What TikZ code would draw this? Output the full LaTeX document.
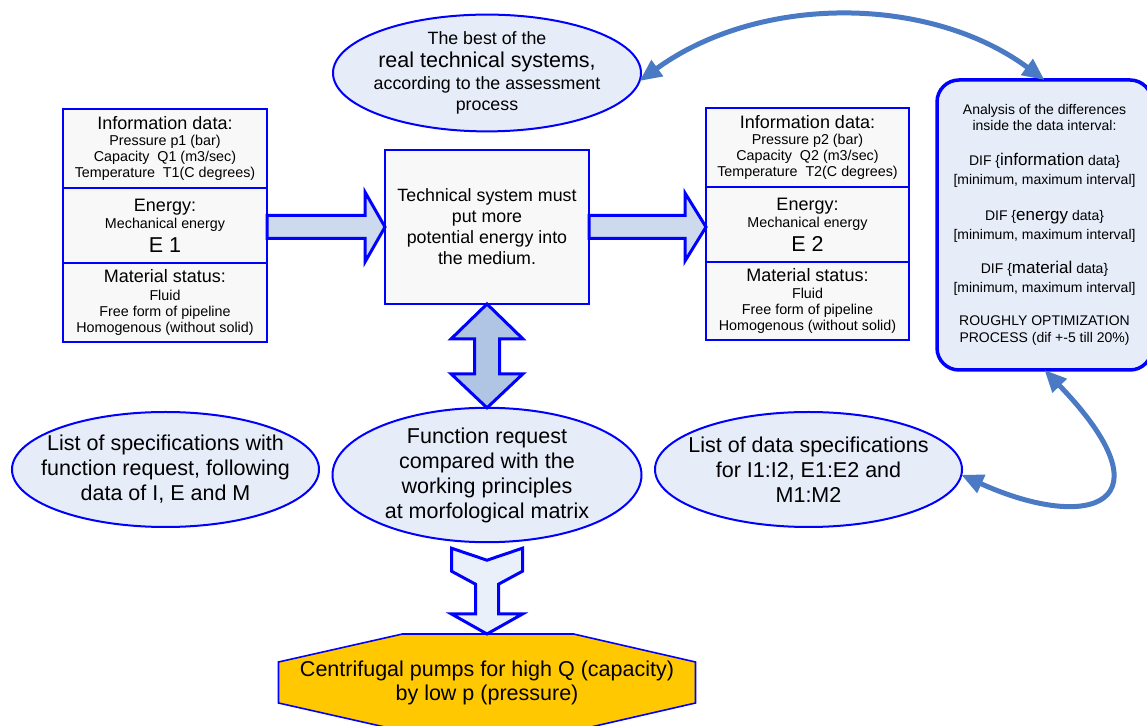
\documentclass[tikz,border=0pt]{standalone}
\usepackage{fontspec}
\setmainfont{Liberation Sans}
\usetikzlibrary{shapes.geometric,arrows.meta,calc}

\definecolor{boxblue}{RGB}{0,0,255}
\definecolor{ovalfill}{RGB}{230,236,248}
\definecolor{boxfill}{RGB}{248,248,248}
\definecolor{harrowfill}{RGB}{205,217,237}
\definecolor{varrowfill}{RGB}{176,196,228}
\definecolor{yarrowfill}{RGB}{234,240,249}
\definecolor{linkblue}{RGB}{74,122,196}
\definecolor{pumpgold}{RGB}{255,200,0}

% font size / baseline skip
\newcommand\setfs[2]{\fontsize{#1}{#2}\selectfont}

\tikzset{
  infobox/.style={draw=boxblue, line width=2pt, fill=boxfill, minimum width=204pt,
    inner sep=0pt, outer sep=0pt, align=center, font=\setfs{14.3}{16}},
  % negative inner xsep: the ellipse size is fixed by minimum width/height
  oval/.style={ellipse, draw=boxblue, line width=2pt, fill=ovalfill, inner xsep=-60pt,
    inner ysep=0pt, outer sep=0pt, align=center, font=\setfs{21.5}{25}},
  blockarr/.style={draw=boxblue, line width=3pt, line join=miter},
  link/.style={draw=linkblue, line width=5pt,
    {Triangle[length=22pt,width=19pt]}-{Triangle[length=22pt,width=19pt]}},
}

\begin{document}
\begin{tikzpicture}[x=1pt,y=1pt]
\useasboundingbox (0,0) rectangle (1147,725);
\begin{scope}[yshift=725pt, y=-1pt]

% top oval
\node[oval, minimum width=308pt, minimum height=112pt, font=\setfs{17.8}{21}] (best) at (487,73)
  {The best of the\\[2pt]{\setfs{21.5}{21}real technical systems,}\\[1pt]according to the assessment\\process};

% input data (left column)
\node[infobox, minimum height=79pt] (in1) at (165,148.5)
  {{\setfs{18}{16}Information data:}\\Pressure p1 (bar)\\Capacity\ \ Q1 (m3/sec)\\Temperature\ \ T1(C degrees)};
\node[infobox, minimum height=75pt] (in2) at (165,225.5)
  {{\setfs{18}{16}Energy:}\\[1pt]Mechanical energy\\[5pt]{\setfs{21.5}{16}E 1}};
\node[infobox, minimum height=79pt] (in3) at (165,302.5)
  {{\setfs{18}{16}Material status:}\\[1.5pt]Fluid\\Free form of pipeline\\Homogenous (without solid)};

% technical system
\node[infobox, minimum height=154pt, font=\setfs{17.8}{21}] (tech) at (487,227)
  {Technical system must\\put more\\potential energy into\\the medium.};

% output data (right column)
\node[infobox, minimum width=203pt, minimum height=79pt] (out1) at (807.5,147.5)
  {{\setfs{18}{16}Information data:}\\Pressure p2 (bar)\\Capacity\ \ Q2 (m3/sec)\\Temperature\ \ T2(C degrees)};
\node[infobox, minimum width=203pt, minimum height=75pt] (out2) at (807.5,224.5)
  {{\setfs{18}{16}Energy:}\\[1pt]Mechanical energy\\[5pt]{\setfs{21.5}{16}E 2}};
\node[infobox, minimum width=203pt, minimum height=78pt] (out3) at (807.5,301)
  {{\setfs{18}{16}Material status:}\\[1.5pt]Fluid\\Free form of pipeline\\Homogenous (without solid)};

% analysis of differences
\node[draw=boxblue, line width=3.5pt, fill=ovalfill, rounded corners=22pt,
      minimum width=215pt, minimum height=290pt, inner sep=0pt, outer sep=0pt,
      align=center, font=\setfs{14}{16}] (anal) at (1044.5,225)
  {Analysis of the differences\\inside the data interval:\\[19pt]
   DIF \{{\setfs{17}{16}information} data\}\\[3pt]{[}minimum, maximum interval{]}\\[20pt]
   DIF \{{\setfs{17}{16}energy} data\}\\[3pt]{[}minimum, maximum interval{]}\\[18pt]
   DIF \{{\setfs{17}{16}material} data\}\\[3pt]{[}minimum, maximum interval{]}\\[17pt]
   ROUGHLY OPTIMIZATION\\[1pt]PROCESS (dif +-5 till 20\%)};

% lower ovals
\node[oval, minimum width=307pt, minimum height=115pt] (spec) at (165.5,469.5)
  {List of specifications with\\function request, following\\data of I, E and M};
\node[oval, minimum width=309pt, minimum height=126pt] (fr) at (487,475)
  {Function request\\compared with the\\working principles\\at morfological matrix};
\node[oval, minimum width=307pt, minimum height=115pt] (lds) at (808.5,469.5)
  {List of data specifications\\for I1:I2, E1:E2 and\\M1:M2};

% result: octagon behind its text
\coordinate (pumpc) at (487,682.5);
\draw[line width=1.6pt, draw=boxblue, fill=pumpgold]
  ($(pumpc)+(-84.5,-48.5)$) -- ($(pumpc)+(86.5,-48.5)$) -- ($(pumpc)+(208.5,-20.5)$)
  -- ($(pumpc)+(208.5,20.5)$) -- ($(pumpc)+(86.5,48.5)$) -- ($(pumpc)+(-84.5,48.5)$)
  -- ($(pumpc)+(-208.5,20.5)$) -- ($(pumpc)+(-208.5,-20.5)$) -- cycle;
\node[minimum width=417pt, minimum height=97pt, inner sep=0pt, outer sep=0pt,
      align=center, font=\setfs{21.5}{24}] (pump) at (pumpc)
  {Centrifugal pumps for high Q (capacity)\\by low p (pressure)};

% block arrows
\draw[blockarr, fill=harrowfill]
  ($(in2.east |- tech.west)+(0,-11.5)$) -- ($(tech.west)+(-20,-11.5)$)
  -- ($(tech.west)+(-20,-35)$) -- (tech.west) -- ($(tech.west)+(-20,35)$)
  -- ($(tech.west)+(-20,11.5)$) -- ($(in2.east |- tech.west)+(0,11.5)$) -- cycle;
\draw[blockarr, fill=harrowfill]
  ($(tech.east)+(0,-11.5)$) -- ($(out2.west |- tech.east)+(-21,-11.5)$)
  -- ($(out2.west |- tech.east)+(-21,-34)$) -- (out2.west |- tech.east)
  -- ($(out2.west |- tech.east)+(-21,34)$) -- ($(out2.west |- tech.east)+(-21,11.5)$)
  -- ($(tech.east)+(0,11.5)$) -- cycle;
\draw[blockarr, fill=varrowfill]
  (tech.south) -- ($(tech.south)+(36,35)$) -- ($(tech.south)+(12.5,35)$)
  -- ($(fr.north)+(12.5,-34)$) -- ($(fr.north)+(36,-34)$) -- (fr.north)
  -- ($(fr.north)+(-36,-34)$) -- ($(fr.north)+(-12.5,-34)$)
  -- ($(tech.south)+(-12.5,35)$) -- ($(tech.south)+(-36,35)$) -- cycle;
\draw[blockarr, fill=yarrowfill]
  ($(fr.south)+(-35.5,6)$) -- ($(fr.south)+(0,18)$) -- ($(fr.south)+(35.5,6)$)
  -- ($(fr.south)+(35.5,29)$) -- ($(fr.south)+(11.5,42)$)
  -- ($(pump.north)+(11.5,-20)$) -- ($(pump.north)+(35.5,-20)$) -- (pump.north)
  -- ($(pump.north)+(-35.5,-20)$) -- ($(pump.north)+(-11.5,-20)$)
  -- ($(fr.south)+(-11.5,42)$) -- ($(fr.south)+(-35.5,29)$) -- cycle;

% curved links
\draw[link] (best.-3.5) .. controls +(120,-87) and +(-115,-85) .. (anal.north);
\draw[link] (lds.-2) .. controls +(128,58) and +(130,135) .. (anal.south);

\end{scope}
\end{tikzpicture}
\end{document}
